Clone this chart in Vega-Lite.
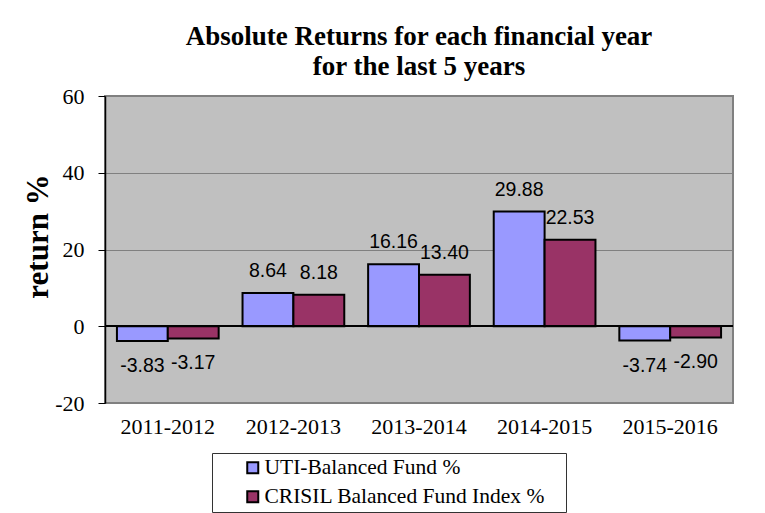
{
  "$schema": "https://vega.github.io/schema/vega-lite/v6.json",
  "width": 628,
  "height": 307,
  "autosize": {"type": "none"},
  "padding": {"left": 105, "top": 96, "right": 32, "bottom": 110},
  "background": "white",
  "title": {
    "text": ["Absolute Returns for each financial year", "for the last 5 years"],
    "font": "Liberation Serif",
    "fontSize": 27,
    "fontWeight": "bold",
    "color": "black",
    "lineHeight": 30,
    "offset": 4,
    "anchor": "middle",
    "frame": "group"
  },
  "config": {
    "locale": {
      "number": {"decimal": ".", "thousands": ",", "grouping": [3], "currency": ["", ""], "minus": "-"}
    },
    "view": {"fill": "#C0C0C0", "stroke": "#808080", "strokeWidth": 2},
    "axis": {"labelColor": "black", "labelFont": "Liberation Serif", "labelFontSize": 22}
  },
  "data": {
    "values": [
      {"year": "2011-2012", "series": "UTI-Balanced Fund %", "value": -3.83},
      {"year": "2011-2012", "series": "CRISIL Balanced Fund Index %", "value": -3.17},
      {"year": "2012-2013", "series": "UTI-Balanced Fund %", "value": 8.64},
      {"year": "2012-2013", "series": "CRISIL Balanced Fund Index %", "value": 8.18},
      {"year": "2013-2014", "series": "UTI-Balanced Fund %", "value": 16.16},
      {"year": "2013-2014", "series": "CRISIL Balanced Fund Index %", "value": 13.40},
      {"year": "2014-2015", "series": "UTI-Balanced Fund %", "value": 29.88},
      {"year": "2014-2015", "series": "CRISIL Balanced Fund Index %", "value": 22.53},
      {"year": "2015-2016", "series": "UTI-Balanced Fund %", "value": -3.74},
      {"year": "2015-2016", "series": "CRISIL Balanced Fund Index %", "value": -2.90}
    ]
  },
  "encoding": {
    "x": {
      "field": "year",
      "type": "nominal",
      "sort": null,
      "scale": {"paddingInner": 0.19, "paddingOuter": 0.095},
      "axis": {"title": null, "labelAngle": 0, "ticks": false, "domain": false, "grid": false, "labelPadding": 13, "labelFont": "Liberation Serif", "labelFontSize": 22}
    },
    "xOffset": {
      "field": "series",
      "type": "nominal",
      "sort": ["UTI-Balanced Fund %", "CRISIL Balanced Fund Index %"],
      "scale": {"paddingInner": 0, "paddingOuter": 0}
    }
  },
  "layer": [
    {
      "mark": {"type": "bar", "stroke": "black", "strokeWidth": 2},
      "encoding": {
        "y": {
          "field": "value",
          "type": "quantitative",
          "scale": {"domain": [-20, 60], "nice": false, "zero": false},
          "axis": {
            "values": [-20, 0, 20, 40, 60],
            "title": "return %",
            "titleFont": "Liberation Serif",
            "titleFontSize": 31,
            "titleFontWeight": "bold",
            "titleColor": "black",
            "titlePadding": 0,
            "titleY": 140,
            "labelFont": "Liberation Serif",
            "labelFontSize": 22,
            "grid": true,
            "gridColor": "#808080",
            "gridWidth": 1,
            "domainColor": "black",
            "domainWidth": 1.5,
            "tickColor": "black",
            "tickSize": 7,
            "tickWidth": 1,
            "labelPadding": 14
          }
        },
        "color": {
          "field": "series",
          "type": "nominal",
          "scale": {
            "domain": ["UTI-Balanced Fund %", "CRISIL Balanced Fund Index %"],
            "range": ["#9999FF", "#993366"]
          },
          "legend": {
            "title": null,
            "orient": "none",
            "legendX": 107,
            "legendY": 357,
            "direction": "vertical",
            "strokeColor": "#333333",
            "padding": 4,
            "symbolType": "square",
            "symbolSize": 121,
            "symbolStrokeColor": "black",
            "symbolStrokeWidth": 2,
            "symbolOffset": 26,
            "labelFont": "Liberation Serif",
            "labelFontSize": 21.5,
            "labelColor": "black",
            "labelOffset": 1,
            "rowPadding": 6,
            "labelLimit": 600,
            "labelExpr": "datum.label + '\u2800'"
          }
        }
      }
    },
    {
      "mark": {"type": "rule", "color": "black", "strokeWidth": 1.5},
      "encoding": {"y": {"datum": 0, "type": "quantitative"}, "x": null, "xOffset": null}
    },
    {
      "transform": [{"filter": "datum.value >= 0"}],
      "mark": {"type": "text", "font": "Liberation Sans", "fontSize": 19.5, "color": "black", "baseline": "alphabetic", "dy": -16},
      "encoding": {
        "y": {"field": "value", "type": "quantitative"},
        "text": {"field": "value", "type": "quantitative", "format": ".2f"}
      }
    },
    {
      "transform": [{"filter": "datum.value < 0"}],
      "mark": {"type": "text", "font": "Liberation Sans", "fontSize": 19.5, "color": "black", "baseline": "top", "dy": 16},
      "encoding": {
        "y": {"field": "value", "type": "quantitative"},
        "text": {"field": "value", "type": "quantitative", "format": ".2f"}
      }
    }
  ]
}
